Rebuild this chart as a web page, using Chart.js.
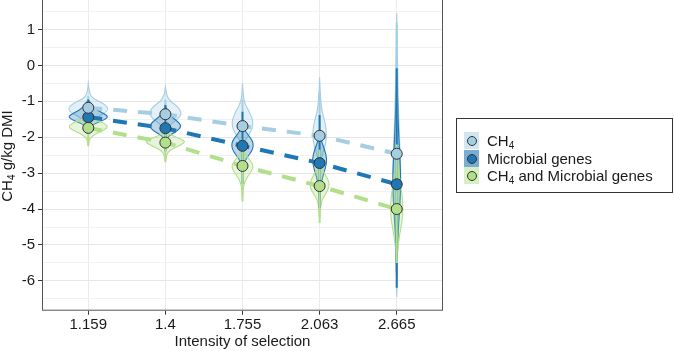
<!DOCTYPE html>
<html>
<head>
<meta charset="utf-8">
<script src="https://cdn.jsdelivr.net/npm/chart.js@4.4.1/dist/chart.umd.min.js"></script>
<style>
  html, body { margin: 0; padding: 0; background: #fff; }
  #wrap { position: relative; width: 674px; height: 351px; font-family: 'Liberation Sans', Arial, sans-serif; color: #1a1a1a; }
  #yTitle { position: absolute; left: -73px; top: 147px; width: 160px; height: 18px; line-height: 18px;
            text-align: center; font-size: 15px; white-space: nowrap; transform: rotate(-90deg); }
  #legend { position: absolute; left: 456px; top: 118px; width: 215px; height: 73px; border: 1px solid #333; }
  .row { position: absolute; left: 7px; height: 17px; font-size: 15px; line-height: 17px; white-space: nowrap; }
  .key { position: absolute; left: 0; top: 0; width: 15px; height: 17px; }
  .key i { position: absolute; left: 3px; top: 4px; width: 8px; height: 8px; border: 1px solid #333; border-radius: 50%; }
  .lbl { position: absolute; left: 23px; top: 0; }
  sub { font-size: 10px; line-height: 0; vertical-align: -3px; }
</style>
</head>
<body>
<div id="wrap">
  <canvas id="violinChart" width="674" height="351"></canvas>
  <div id="yTitle">CH<sub>4</sub> g/kg DMI</div>
  <div id="legend"></div>
</div>
<script>
// kategori sumbu x
const categories = ['1.159', '1.4', '1.755', '2.063', '2.665'];

// nilai tengah tiap seri
const ch4Means = [-1.18, -1.36, -1.69, -1.96, -2.46];
const microbialMeans = [-1.44, -1.75, -2.24, -2.72, -3.31];
const combinedMeans = [-1.74, -2.15, -2.80, -3.36, -4.00];

// rentang garis vertikal
const ch4High = [-0.85, -0.95, -0.95, -0.75, 1.2];
const ch4Low = [-1.55, -1.8, -2.4, -3.1, -5.8];
const microbialHigh = [-0.95, -1.1, -1.29, -1.38, -0.08];
const microbialLow = [-1.9, -2.4, -3.3, -3.97, -6.19];
const combinedHigh = [-1.2, -1.6, -2.07, -2.35, -2.2];
const combinedLow = [-2.25, -2.7, -3.79, -4.39, -5.5];

// profil kepadatan violin: [nilai, kepadatan relatif]
const ch4Violins = [
  [[-0.50, 0], [-0.80, 0.06], [-0.92, 0.25], [-1.02, 0.6], [-1.12, 0.9], [-1.22, 1.0], [-1.32, 0.85], [-1.42, 0.5], [-1.55, 0.2], [-1.70, 0]],
  [[-0.60, 0], [-0.85, 0.06], [-1.00, 0.25], [-1.12, 0.55], [-1.25, 0.75], [-1.37, 0.8], [-1.50, 0.6], [-1.62, 0.3], [-1.75, 0.1], [-1.88, 0]],
  [[-0.50, 0], [-0.90, 0.04], [-1.10, 0.15], [-1.30, 0.35], [-1.50, 0.5], [-1.65, 0.52], [-1.80, 0.45], [-1.95, 0.3], [-2.10, 0.12], [-2.30, 0]],
  [[-0.33, 0], [-0.90, 0.04], [-1.30, 0.12], [-1.60, 0.28], [-1.90, 0.35], [-2.20, 0.3], [-2.45, 0.15], [-2.70, 0.05], [-2.90, 0]],
  [[1.45, 0], [0.50, 0.03], [-0.50, 0.06], [-1.50, 0.1], [-2.30, 0.16], [-3.00, 0.2], [-3.60, 0.18], [-4.20, 0.1], [-5.00, 0.04], [-6.00, 0.02], [-6.60, 0]]
];
const microbialViolins = [
  [[-0.95, 0], [-1.10, 0.15], [-1.25, 0.45], [-1.35, 0.8], [-1.43, 1.0], [-1.52, 0.8], [-1.60, 0.4], [-1.70, 0.12], [-1.85, 0]],
  [[-1.10, 0], [-1.30, 0.1], [-1.45, 0.35], [-1.58, 0.65], [-1.70, 0.8], [-1.82, 0.6], [-1.92, 0.3], [-2.02, 0.08], [-2.15, 0]],
  [[-1.60, 0], [-1.80, 0.1], [-1.95, 0.3], [-2.10, 0.5], [-2.25, 0.55], [-2.40, 0.45], [-2.55, 0.25], [-2.70, 0.08], [-2.85, 0]],
  [[-1.90, 0], [-2.10, 0.08], [-2.35, 0.25], [-2.60, 0.37], [-2.85, 0.3], [-3.10, 0.15], [-3.40, 0.05], [-3.95, 0]],
  [[-0.10, 0], [-1.00, 0.04], [-2.00, 0.1], [-2.80, 0.18], [-3.30, 0.2], [-3.80, 0.17], [-4.40, 0.1], [-5.00, 0.04], [-6.20, 0]]
];
const combinedViolins = [
  [[-1.40, 0], [-1.50, 0.3], [-1.60, 0.75], [-1.70, 1.0], [-1.80, 0.8], [-1.90, 0.4], [-2.00, 0.12], [-2.10, 0.04], [-2.27, 0]],
  [[-1.85, 0], [-1.95, 0.3], [-2.05, 0.8], [-2.13, 1.0], [-2.22, 0.75], [-2.32, 0.35], [-2.42, 0.12], [-2.55, 0.04], [-2.72, 0]],
  [[-2.30, 0], [-2.50, 0.15], [-2.65, 0.4], [-2.80, 0.55], [-2.95, 0.45], [-3.10, 0.25], [-3.25, 0.1], [-3.45, 0.03], [-3.80, 0]],
  [[-2.70, 0], [-2.90, 0.12], [-3.10, 0.35], [-3.30, 0.5], [-3.50, 0.4], [-3.70, 0.15], [-3.90, 0.05], [-4.40, 0]],
  [[-2.40, 0], [-2.90, 0.08], [-3.40, 0.22], [-3.90, 0.32], [-4.30, 0.28], [-4.70, 0.15], [-5.10, 0.05], [-5.50, 0]]
];

const series = [
  { label: 'CH<sub>4</sub>', color: '166,206,227', means: ch4Means, high: ch4High, low: ch4Low, violins: ch4Violins, keyAlpha: 0.5 },
  { label: 'Microbial genes', color: '31,120,180', means: microbialMeans, high: microbialHigh, low: microbialLow, violins: microbialViolins, keyAlpha: 0.6 },
  { label: 'CH<sub>4</sub> and Microbial genes', color: '178,223,138', means: combinedMeans, high: combinedHigh, low: combinedLow, violins: combinedViolins, keyAlpha: 0.5 }
];

const VIOLIN_HALF = 0.26; // setengah lebar violin maksimum (unit kategori)

function toPoints(values) {
  return values.map((v, i) => ({ x: i + 1, y: v }));
}

// gambar violin + garis rentang
const violinPlugin = {
  id: 'violins',
  beforeDatasetsDraw(chart) {
    const { ctx, chartArea, scales: { x, y } } = chart;
    ctx.save();
    ctx.beginPath();
    ctx.rect(chartArea.left, chartArea.top, chartArea.right - chartArea.left, chartArea.bottom - chartArea.top);
    ctx.clip();

    series.forEach(s => {
      s.violins.forEach((profile, i) => {
        const cx = i + 1;
        const right = profile.map(([v, d]) => [x.getPixelForValue(cx + d * VIOLIN_HALF), y.getPixelForValue(v)]);
        const left = profile.map(([v, d]) => [x.getPixelForValue(cx - d * VIOLIN_HALF), y.getPixelForValue(v)]).reverse();
        const pts = right.concat(left.slice(1));
        ctx.beginPath();
        ctx.moveTo(pts[0][0], pts[0][1]);
        for (let k = 1; k < pts.length - 1; k++) {
          const mx = (pts[k][0] + pts[k + 1][0]) / 2;
          const my = (pts[k][1] + pts[k + 1][1]) / 2;
          ctx.quadraticCurveTo(pts[k][0], pts[k][1], mx, my);
        }
        ctx.lineTo(pts[pts.length - 1][0], pts[pts.length - 1][1]);
        ctx.closePath();
        ctx.fillStyle = `rgba(${s.color},0.3)`;
        ctx.fill();
        ctx.strokeStyle = `rgb(${s.color})`;
        ctx.lineWidth = 1.1;
        ctx.stroke();
      });
    });

    series.forEach(s => {
      ctx.strokeStyle = `rgb(${s.color})`;
      ctx.lineWidth = 2;
      s.high.forEach((hi, i) => {
        const px = x.getPixelForValue(i + 1);
        ctx.beginPath();
        ctx.moveTo(px, y.getPixelForValue(hi));
        ctx.lineTo(px, y.getPixelForValue(s.low[i]));
        ctx.stroke();
      });
    });
    ctx.restore();
  },
  afterDatasetsDraw(chart) {
    const { ctx, chartArea } = chart;
    ctx.save();
    ctx.strokeStyle = '#555';
    ctx.lineWidth = 1;
    ctx.strokeRect(chartArea.left + 0.5, chartArea.top - 1.5, chartArea.right - chartArea.left - 1, chartArea.bottom - chartArea.top + 1);
    ctx.restore();
  }
};

const datasets = [];
series.forEach(s => {
  datasets.push({
    type: 'line',
    data: toPoints(s.means),
    borderColor: `rgb(${s.color})`,
    borderWidth: 4,
    borderDash: [14, 11],
    borderCapStyle: 'butt',
    pointRadius: 0,
    fill: false,
    order: 2
  });
});
series.forEach(s => {
  datasets.push({
    type: 'scatter',
    data: toPoints(s.means),
    backgroundColor: `rgb(${s.color})`,
    borderColor: '#333',
    borderWidth: 1,
    pointRadius: 5.5,
    order: 1
  });
});

const isMajor = v => Math.abs(v - Math.round(v)) < 1e-6;

new Chart(document.getElementById('violinChart').getContext('2d'), {
  data: { datasets },
  options: {
    responsive: false,
    animation: false,
    layout: { autoPadding: false, padding: { top: 0, right: 231, bottom: 0, left: 0 } },
    plugins: { legend: { display: false }, tooltip: { enabled: false } },
    scales: {
      x: {
        type: 'linear',
        min: 0.4,
        max: 5.6,
        afterBuildTicks: sc => { sc.ticks = categories.map((c, i) => ({ value: i + 1 })); },
        afterFit: sc => { sc.height = 40.3; sc.paddingLeft = 0; sc.paddingRight = 0; },
        ticks: {
          callback: v => categories[Math.round(v) - 1],
          color: '#1a1a1a',
          font: { family: "'Liberation Sans', Arial, sans-serif", size: 15 },
          padding: 1,
          maxRotation: 0,
          autoSkip: false
        },
        grid: { color: '#ebebeb', lineWidth: 1, tickLength: 4, tickColor: '#333' },
        border: { display: false },
        title: {
          display: true,
          text: 'Intensity of selection',
          color: '#1a1a1a',
          font: { family: "'Liberation Sans', Arial, sans-serif", size: 15 },
          padding: { top: 0, bottom: 0 }
        }
      },
      y: {
        type: 'linear',
        min: -6.83,
        max: 1.82,
        afterBuildTicks: sc => {
          const t = [];
          for (let v = -6.5; v <= 1.5; v += 0.5) t.push({ value: v });
          sc.ticks = t;
        },
        afterFit: sc => { sc.width = 42; sc.paddingTop = 0; sc.paddingBottom = 0; },
        ticks: {
          callback: v => (isMajor(v) ? String(Math.round(v)) : ''),
          color: '#1a1a1a',
          font: { family: "'Liberation Sans', Arial, sans-serif", size: 15 },
          padding: 3,
          autoSkip: false
        },
        grid: {
          color: c => (isMajor(c.tick.value) ? '#e6e6e6' : '#f2f2f2'),
          lineWidth: 1,
          tickLength: 4,
          tickColor: c => (isMajor(c.tick.value) ? '#333' : 'rgba(0,0,0,0)')
        },
        border: { display: false }
      }
    }
  },
  plugins: [violinPlugin]
});

// legenda
const legend = document.getElementById('legend');
series.forEach((s, i) => {
  const row = document.createElement('div');
  row.className = 'row';
  row.style.top = (13 + i * 17.5) + 'px';
  row.innerHTML = `<span class="key" style="background:rgba(${s.color},${s.keyAlpha})"><i style="background:rgb(${s.color})"></i></span><span class="lbl">${s.label}</span>`;
  legend.appendChild(row);
});
</script>
</body>
</html>
